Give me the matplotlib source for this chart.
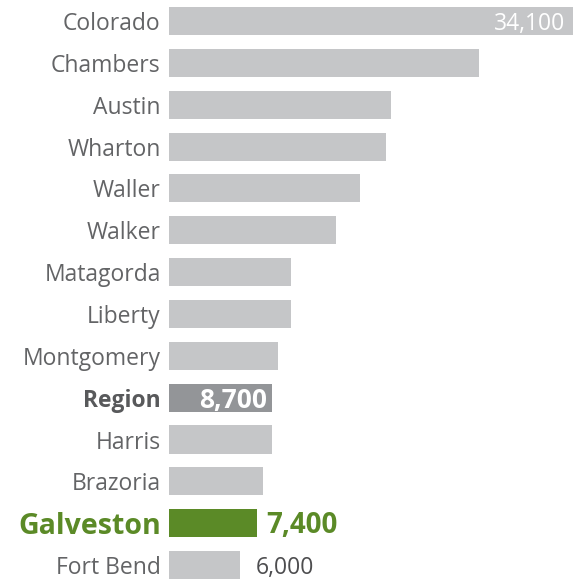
import matplotlib.pyplot as plt

# commute-out values by county
counties = ['Colorado', 'Chambers', 'Austin', 'Wharton', 'Waller', 'Walker',
            'Matagorda', 'Liberty', 'Montgomery', 'Region', 'Harris',
            'Brazoria', 'Galveston', 'Fort Bend']
values = [34100, 26200, 18700, 18300, 16100, 14100,
          10300, 10300, 9200, 8700, 8700,
          7900, 7400, 6000]
# only these bars carry a number
shown = {'Colorado': '34,100', 'Region': '8,700',
         'Galveston': '7,400', 'Fort Bend': '6,000'}

grey = '#c5c6c8'
dark = '#939598'
green = '#5b8a27'
txt = '#636466'

plt.rcParams['font.family'] = ['Open Sans', 'DejaVu Sans']

fig = plt.figure(figsize=(5.73, 5.79), dpi=100)
ax = fig.add_axes([169 / 573, 0, 404 / 573, 1])

colors = []
for c in counties:
    if c == 'Region':
        colors.append(dark)
    elif c == 'Galveston':
        colors.append(green)
    else:
        colors.append(grey)

ypos = list(range(len(counties)))
ax.barh(ypos, values, height=0.67, color=colors)
ax.set_xlim(0, 34100)
ax.set_ylim(13.333, -0.502)

ax.set_yticks(ypos)
ax.set_yticklabels(counties, fontsize=16.5)
ax.tick_params(axis='y', length=0, pad=6)
ax.set_xticks([])
for lab in ax.get_yticklabels():
    name = lab.get_text()
    lab.set_color(txt)
    if name == 'Region':
        lab.set_fontweight('bold')
        lab.set_color('#58595b')
    elif name == 'Galveston':
        lab.set_fontweight('bold')
        lab.set_color(green)
        lab.set_fontsize(20.5)

for s in ax.spines.values():
    s.set_visible(False)

dy = 0.06  # nudge numbers down a touch
for i, c in enumerate(counties):
    if c not in shown:
        continue
    v = values[i]
    if c == 'Colorado':
        ax.text(v - 650, i + dy, shown[c], ha='right', va='center',
                color='white', fontsize=16.5)
    elif c == 'Region':
        ax.text(v - 420, i + dy, shown[c], ha='right', va='center',
                color='white', fontsize=19, fontweight='bold')
    elif c == 'Galveston':
        ax.text(v + 850, i + dy, shown[c], ha='left', va='center',
                color=green, fontsize=20, fontweight='bold')
    else:
        ax.text(v + 1350, i + dy, shown[c], ha='left', va='center',
                color='#4d4d4f', fontsize=16.5)

fig.savefig('out.png', dpi=100)
